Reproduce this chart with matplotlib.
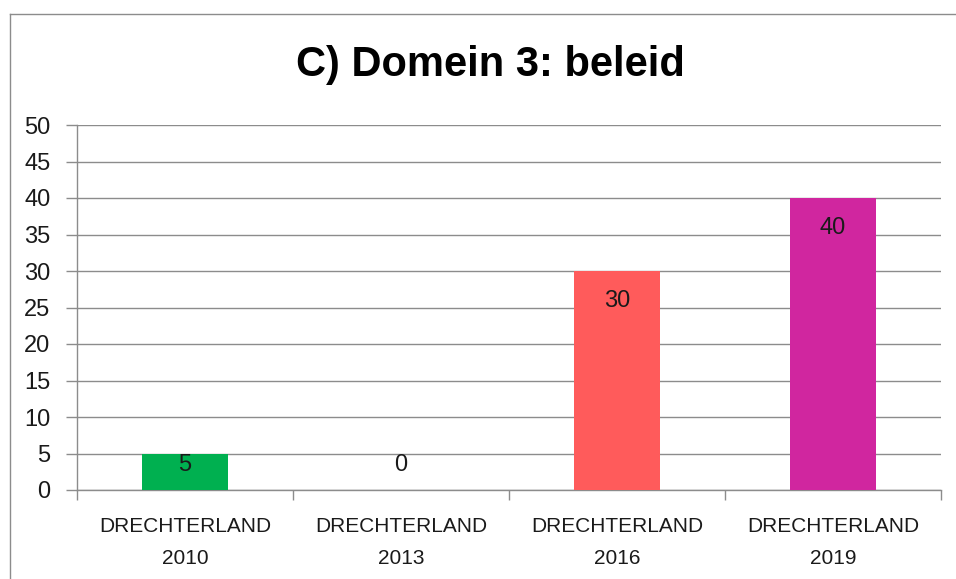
import matplotlib
matplotlib.use("Agg")
import matplotlib.pyplot as plt
from matplotlib.lines import Line2D
import numpy as np

plt.rcParams['font.family'] = ['Liberation Sans', 'DejaVu Sans']

categories = ["DRECHTERLAND\n2010", "DRECHTERLAND\n2013", "DRECHTERLAND\n2016", "DRECHTERLAND\n2019"]
values = [5, 0, 30, 40]
colors = ["#00B050", "#00B050", "#FF5B5B", "#D0269F"]
title = "C) Domein 3: beleid"
yticks = list(range(0, 51, 5))

W, H = 956, 579
fig = plt.figure(figsize=(W / 100, H / 100), dpi=100)
ax = fig.add_axes([77 / W, 1 - 490 / H, (941 - 77) / W, (490 - 125) / H])

x = np.arange(len(categories))
bars = ax.bar(x, values, width=0.4, color=colors, zorder=3)

ax.set_xlim(-0.5, len(categories) - 0.5)
ax.set_ylim(0, 50)
ax.set_yticks(yticks)
ax.yaxis.grid(True, color="#8c8c8c", linewidth=1, zorder=0)
ax.set_axisbelow(True)

ax.set_xticks(x)
ax.set_xticklabels(categories, fontsize=15, color="#1a1a1a", linespacing=1.85)
ax.set_xticks(np.arange(-0.5, len(categories), 1), minor=True)
ax.tick_params(axis="x", which="major", length=0, pad=19.5)
ax.tick_params(axis="x", which="minor", length=7, color="#8c8c8c", width=1)
ax.tick_params(axis="y", length=8, color="#8c8c8c", width=1, labelsize=17, pad=11, labelcolor="#1a1a1a")

for s in ["top", "right"]:
    ax.spines[s].set_visible(False)
for s in ["left", "bottom"]:
    ax.spines[s].set_color("#8c8c8c")
    ax.spines[s].set_linewidth(1)

# data labels, "inside end" style
px_per_unit = (490 - 125) / 50.0
for xi, v in zip(x, values):
    h_px = v * px_per_unit
    center_px = max(h_px - 30, 25)
    yv = center_px / px_per_unit
    ax.text(xi, yv, f"{v}", ha="center", va="center", fontsize=17, color="#1a1a1a", zorder=4)

fig.text(490 / W, 1 - 65 / H, title, ha="center", va="center", fontsize=30, fontweight="bold")

# chart frame (partly cropped)
fig.add_artist(Line2D([9.5 / W, 9.5 / W], [0, 1 - 13.5 / H], transform=fig.transFigure, color="#8c8c8c", linewidth=1))
fig.add_artist(Line2D([9.5 / W, 1], [1 - 13.5 / H, 1 - 13.5 / H], transform=fig.transFigure, color="#8c8c8c", linewidth=1))

fig.savefig("out.png", dpi=100)
